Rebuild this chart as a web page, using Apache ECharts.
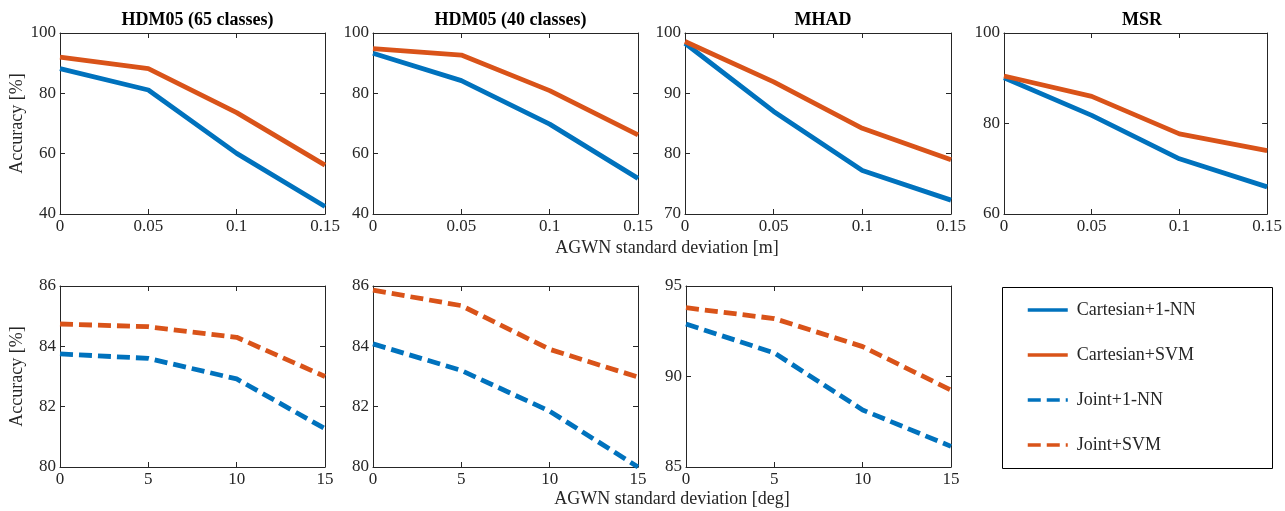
<!DOCTYPE html>
<html>
<head>
<meta charset="utf-8">
<script src="https://cdn.jsdelivr.net/npm/echarts@6/dist/echarts.min.js"></script>
<style>
html,body{margin:0;padding:0;background:#fff;}
#chart{width:1285px;height:511px;}
</style>
</head>
<body>
<div id="chart"></div>
<script>
// ---- Data ----
const xCatsM = ['0', '0.05', '0.1', '0.15'];
const xCatsDeg = ['0', '5', '10', '15'];
const seriesNames = ['Cartesian+1-NN', 'Cartesian+SVM', 'Joint+1-NN', 'Joint+SVM'];

const titles = ['HDM05 (65 classes)', 'HDM05 (40 classes)', 'MHAD', 'MSR'];

// Top row (Cartesian), noise in metres
const hdm65Cart1NN = [88.2, 81.1, 60.1, 42.5];
const hdm65CartSVM = [92.0, 88.2, 73.6, 56.2];
const hdm40Cart1NN = [93.3, 84.2, 69.8, 51.8];
const hdm40CartSVM = [94.8, 92.7, 80.9, 66.2];
const mhadCart1NN = [98.3, 87.0, 77.2, 72.3];
const mhadCartSVM = [98.6, 91.9, 84.2, 79.0];
const msrCart1NN = [90.1, 81.8, 72.2, 66.0];
const msrCartSVM = [90.5, 86.0, 77.7, 74.0];

// Bottom row (Joint), noise in degrees
const hdm65Joint1NN = [83.75, 83.6, 82.92, 81.27];
const hdm65JointSVM = [84.74, 84.65, 84.3, 83.0];
const hdm40Joint1NN = [84.08, 83.2, 81.85, 80.0];
const hdm40JointSVM = [85.86, 85.35, 83.9, 82.98];
const mhadJoint1NN = [92.9, 91.3, 88.15, 86.14];
const mhadJointSVM = [93.8, 93.2, 91.65, 89.25];

// Y axis ranges [min, max, interval]
const yRangesTop = [[40, 100, 20], [40, 100, 20], [70, 100, 10], [60, 100, 20]];
const yRangesBottom = [[80, 86, 2], [80, 86, 2], [85, 95, 5]];

const yAxisName = 'Accuracy [%]';
const xLabelTop = 'AGWN standard deviation [m]';
const xLabelBottom = 'AGWN standard deviation [deg]';

// ---- Build option ----
const BLUE = '#0072BD', ORANGE = '#D95319', INK = '#262626';
const FONT = 'Liberation Serif';

const gridsTop = [
  {left: 60, top: 33, width: 265, height: 181},
  {left: 373, top: 33, width: 265, height: 181},
  {left: 685, top: 33, width: 266, height: 181},
  {left: 1004, top: 33, width: 266, height: 181}
];
const gridsBottom = [
  {left: 60, top: 286, width: 265, height: 181},
  {left: 373, top: 286, width: 265, height: 181},
  {left: 686, top: 286, width: 265, height: 181}
];

const grid = [], xAxis = [], yAxis = [], series = [], title = [];

function addPanel(g, cats, yr, withName, lines) {
  const gi = grid.length;
  grid.push(Object.assign({containLabel: false}, g));
  const xi = xAxis.length, yi = yAxis.length;
  const axLine = {show: true, lineStyle: {color: INK, width: 1}};
  const tick = {show: true, inside: true, length: 5, lineStyle: {color: INK, width: 1}};
  xAxis.push({type: 'category', gridIndex: gi, data: cats, boundaryGap: false, position: 'bottom',
    axisLine: axLine, axisTick: tick,
    axisLabel: {color: INK, fontSize: 17, fontFamily: FONT, margin: 4, interval: 0},
    splitLine: {show: false}});
  xAxis.push({type: 'category', gridIndex: gi, data: cats, boundaryGap: false, position: 'top',
    axisLine: axLine, axisTick: tick, axisLabel: {show: false}, splitLine: {show: false}});
  const yBase = {type: 'value', gridIndex: gi, min: yr[0], max: yr[1], interval: yr[2],
    axisLine: axLine, axisTick: tick, splitLine: {show: false}};
  yAxis.push(Object.assign({}, yBase, {position: 'left',
    axisLabel: {color: INK, fontSize: 17, fontFamily: FONT, margin: 4},
    name: withName ? yAxisName : '', nameLocation: 'middle', nameGap: 34,
    nameTextStyle: {color: INK, fontSize: 18, fontFamily: FONT}}));
  yAxis.push(Object.assign({}, yBase, {position: 'right', axisLabel: {show: false}}));
  lines.forEach(l => {
    series.push({type: 'line', name: l.name, xAxisIndex: xi, yAxisIndex: yi, data: l.data,
      symbol: 'none', smooth: false, animation: false,
      lineStyle: {color: l.color, width: 4.8, type: l.dashed ? [13, 6] : 'solid', cap: 'butt'},
      itemStyle: {color: l.color}});
  });
}

const topData = [
  [hdm65Cart1NN, hdm65CartSVM], [hdm40Cart1NN, hdm40CartSVM],
  [mhadCart1NN, mhadCartSVM], [msrCart1NN, msrCartSVM]
];
const bottomData = [
  [hdm65Joint1NN, hdm65JointSVM], [hdm40Joint1NN, hdm40JointSVM], [mhadJoint1NN, mhadJointSVM]
];

topData.forEach((d, i) => {
  addPanel(gridsTop[i], xCatsM, yRangesTop[i], i === 0, [
    {name: seriesNames[0], data: d[0], color: BLUE, dashed: false},
    {name: seriesNames[1], data: d[1], color: ORANGE, dashed: false}
  ]);
  title.push({text: titles[i], left: gridsTop[i].left + gridsTop[i].width / 2, textAlign: 'center', top: 6,
    textStyle: {color: '#000', fontSize: 18, fontWeight: 'bold', fontFamily: FONT}});
});
bottomData.forEach((d, i) => {
  addPanel(gridsBottom[i], xCatsDeg, yRangesBottom[i], i === 0, [
    {name: seriesNames[2], data: d[0], color: BLUE, dashed: true},
    {name: seriesNames[3], data: d[1], color: ORANGE, dashed: true}
  ]);
});

const option = {
  backgroundColor: '#fff',
  animation: false,
  title: title,
  grid: grid, xAxis: xAxis, yAxis: yAxis, series: series,
  legend: {
    data: seriesNames, orient: 'vertical', left: 1021, top: 296,
    itemWidth: 40, itemHeight: 14, itemGap: 27,
    lineStyle: {width: 3.5},
    itemStyle: {opacity: 0},
    textStyle: {color: INK, fontSize: 18, fontFamily: FONT, padding: [0, 0, 0, 4]},
    selectedMode: false
  },
  graphic: [
    {type: 'rect', shape: {x: 1002.5, y: 287.5, width: 270, height: 181},
      style: {fill: 'none', stroke: '#000', lineWidth: 1}, silent: true, z: 0},
    {type: 'text', x: 667, y: 248, style: {text: xLabelTop, fill: INK, fontSize: 18, fontFamily: FONT,
      textAlign: 'center', textVerticalAlign: 'middle'}},
    {type: 'text', x: 672, y: 499, style: {text: xLabelBottom, fill: INK, fontSize: 18, fontFamily: FONT,
      textAlign: 'center', textVerticalAlign: 'middle'}}
  ]
};

const chart = echarts.init(document.getElementById('chart'), null, {renderer: 'canvas'});
chart.setOption(option);
</script>
</body>
</html>
